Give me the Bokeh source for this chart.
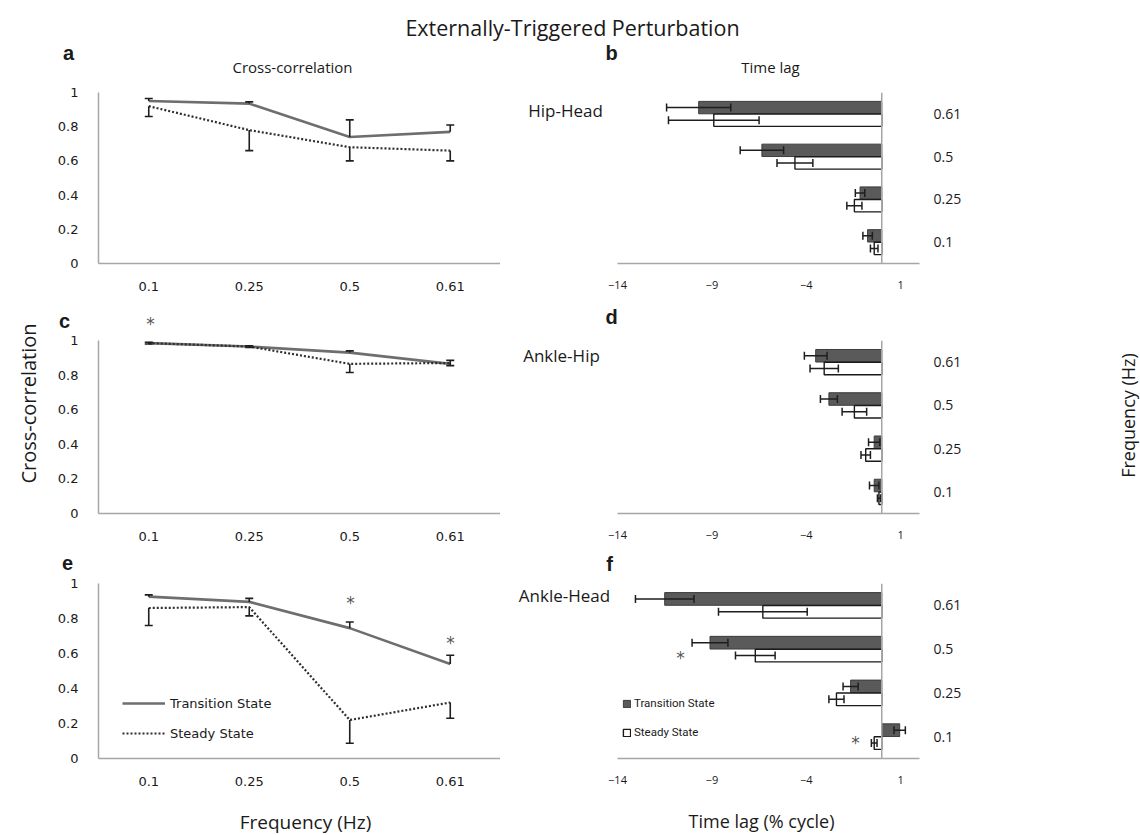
import math
from bokeh.plotting import figure
from bokeh.models import (Range1d, FactorRange, ColumnDataSource, Whisker, TeeHead, Label,
                          Span, FixedTicker, Legend, LegendItem, CustomJSTickFormatter)
from bokeh.layouts import column, row
from bokeh.transform import dodge
from bokeh.embed import file_html
from bokeh.resources import INLINE

# ---------------- data ----------------
freqs = ["0.1", "0.25", "0.5", "0.61"]
xcorr_ticks = [0, 0.2, 0.4, 0.6, 0.8, 1]
lag_ticks = [-14, -9, -4, 1]

# Cross-correlation (mean, error) - Transition State / Steady State
xc_trans_hip_head = [0.95, 0.935, 0.74, 0.77]
xc_trans_hip_head_err = [0.015, 0.01, 0.10, 0.04]
xc_steady_hip_head = [0.92, 0.78, 0.68, 0.66]
xc_steady_hip_head_err = [0.06, 0.12, 0.08, 0.06]

xc_trans_ankle_hip = [0.985, 0.965, 0.93, 0.865]
xc_trans_ankle_hip_err = [0.005, 0.005, 0.01, 0.02]
xc_steady_ankle_hip = [0.985, 0.965, 0.865, 0.87]
xc_steady_ankle_hip_err = [0.005, 0.005, 0.05, 0.015]

xc_trans_ankle_head = [0.925, 0.895, 0.745, 0.54]
xc_trans_ankle_head_err = [0.01, 0.02, 0.035, 0.05]
xc_steady_ankle_head = [0.86, 0.865, 0.22, 0.32]
xc_steady_ankle_head_err = [0.10, 0.05, 0.133, 0.09]

# Time lag (% cycle) (mean, error)
lag_trans_hip_head = [-0.75, -1.15, -6.35, -9.7]
lag_trans_hip_head_err = [0.25, 0.25, 1.15, 1.7]
lag_steady_hip_head = [-0.4, -1.45, -4.6, -8.9]
lag_steady_hip_head_err = [0.2, 0.4, 0.95, 2.4]

lag_trans_ankle_hip = [-0.4, -0.4, -2.8, -3.5]
lag_trans_ankle_hip_err = [0.25, 0.3, 0.45, 0.6]
lag_steady_ankle_hip = [-0.15, -0.85, -1.45, -3.05]
lag_steady_ankle_hip_err = [0.08, 0.25, 0.65, 0.75]

lag_trans_ankle_head = [0.95, -1.65, -9.1, -11.5]
lag_trans_ankle_head_err = [0.3, 0.4, 0.95, 1.55]
lag_steady_ankle_head = [-0.4, -2.4, -6.7, -6.3]
lag_steady_ankle_head_err = [0.15, 0.4, 1.05, 2.35]

# ---------------- layout (page pixels) ----------------
HDR_H = 84
LS_X0, LS_X1 = 0, 46          # left text strip
L_X0, L_FX0, L_FX1 = 46, 98, 500
R_X0, R_FX1, R_X1 = 500, 919, 1116
RS_X1 = 1140                  # right text strip 1116..1140
BOTTOM = 833
LAG_START = -20.2             # frame starts left of -14 so in-between labels fit
# (fig top, frame top, frame bottom, fig bottom)
rows_geom = [(84, 92, 263, 300), (332, 340, 513, 545), (576, 583, 758, 790)]
strips_geom = [(300, 332), (545, 576), (790, BOTTOM)]

TXT = "#1a1a1a"
AXIS_C = "#a6a6a6"
ERR_C = "#1e1e1e"


def lab(p, fx, fb, X, Y, text, size, font="Open Sans", bold=False, angle=0.0,
        align="center", color=TXT):
    p.add_layout(Label(x=X - fx, y=fb - Y, x_units="screen", y_units="screen", text=text,
                       text_font=font, text_font_size=f"{size}px",
                       text_font_style="bold" if bold else "normal",
                       text_align=align, text_baseline="middle", angle=angle,
                       text_color=color))


def star(p, fx, fb, X, Y):
    lab(p, fx, fb, X, Y + 5, "*", 17, font="DejaVu Sans", color="#555555")


def letter(p, fx, fb, X, Y, t):
    lab(p, fx, fb, X, Y, t, 20, font="Liberation Sans", bold=True)


def text_fig(w, h):
    p = figure(width=w, height=h, output_backend="svg", toolbar_location=None,
               x_range=Range1d(0, 1), y_range=Range1d(0, 1), x_axis_location=None,
               y_axis_location=None, min_border=0)
    p.outline_line_color = None
    p.grid.visible = False
    return p


def base_fig(width, g, left_b, right_b, **kw):
    y0, ft, fb, y1 = g
    p = figure(width=width, height=y1 - y0, output_backend="svg",
               toolbar_location=None, min_border_left=left_b, min_border_right=right_b,
               min_border_top=ft - y0, min_border_bottom=y1 - fb, **kw)
    p.outline_line_color = None
    p.grid.visible = False
    return p


def left_panel(i, trans, trans_err, steady, steady_err):
    g = rows_geom[i]
    p = base_fig(L_FX1 - L_X0, g, L_FX0 - L_X0, 0,
                 x_range=FactorRange(factors=freqs), y_range=Range1d(0, 1))
    src = ColumnDataSource(dict(
        freq=freqs, t=trans, s=steady,
        t_hi=[v + e for v, e in zip(trans, trans_err)],
        s_lo=[v - e for v, e in zip(steady, steady_err)],
    ))
    lt = p.line("freq", "t", source=src, line_color="#6e6e6e", line_width=2.6)
    ls = p.line("freq", "s", source=src, line_color="#2e2e2e", line_width=2.2, line_dash="2 2")
    p.add_layout(Whisker(source=src, base="freq", lower="t", upper="t_hi", dimension="height",
                         line_color=ERR_C, line_width=1.6, lower_head=None, level="overlay",
                         upper_head=TeeHead(size=8, line_color=ERR_C, line_width=1.6)))
    p.add_layout(Whisker(source=src, base="freq", lower="s_lo", upper="s", dimension="height",
                         line_color=ERR_C, line_width=1.6, upper_head=None, level="overlay",
                         lower_head=TeeHead(size=8, line_color=ERR_C, line_width=1.6)))
    for ax in (p.xaxis[0], p.yaxis[0]):
        ax.axis_line_color = AXIS_C
        ax.axis_line_width = 1.5
        ax.major_tick_line_color = None
        ax.minor_tick_line_color = None
        ax.major_label_text_font = "DejaVu Sans"
        ax.major_label_text_font_size = "13px"
        ax.major_label_text_color = TXT
    p.xaxis.major_label_standoff = 12
    p.yaxis.major_label_standoff = 14
    p.yaxis.ticker = FixedTicker(ticks=xcorr_ticks)
    p.yaxis.formatter = CustomJSTickFormatter(code="return String(tick)")
    return p, lt, ls


def right_panel(i, trans, trans_err, steady, steady_err):
    g = rows_geom[i]
    p = base_fig(R_X1 - R_X0, g, 0, R_X1 - R_FX1,
                 x_range=Range1d(LAG_START, 2), y_range=FactorRange(factors=freqs),
                 y_axis_location="right")
    src = ColumnDataSource(dict(
        freq=freqs, t=trans, s=steady,
        t_lo=[v - e for v, e in zip(trans, trans_err)],
        t_hi=[v + e for v, e in zip(trans, trans_err)],
        s_lo=[v - e for v, e in zip(steady, steady_err)],
        s_hi=[v + e for v, e in zip(steady, steady_err)],
    ))
    yt = dodge("freq", 0.147, range=p.y_range)
    ys = dodge("freq", -0.147, range=p.y_range)
    bt = p.hbar(y=yt, left=0, right="t", height=0.29, source=src,
                fill_color="#5a5a5a", line_color="#3c3c3c", line_width=1)
    bs = p.hbar(y=ys, left=0, right="s", height=0.29, source=src,
                fill_color="white", line_color="#1a1a1a", line_width=1.4)
    for base, lo, hi in ((yt, "t_lo", "t_hi"), (ys, "s_lo", "s_hi")):
        p.add_layout(Whisker(source=src, base=base, lower=lo, upper=hi, dimension="width",
                             line_color=ERR_C, line_width=1.5, level="overlay",
                             lower_head=TeeHead(size=8, line_color=ERR_C, line_width=1.5),
                             upper_head=TeeHead(size=8, line_color=ERR_C, line_width=1.5)))
    p.add_layout(Span(location=0, dimension="height", line_color=AXIS_C, line_width=1.5))
    xa = p.xaxis[0]
    xa.bounds = (lag_ticks[0], 2)
    xa.ticker = FixedTicker(ticks=lag_ticks)
    xa.axis_line_color = AXIS_C
    xa.axis_line_width = 1.5
    xa.major_tick_line_color = None
    xa.minor_tick_line_color = None
    xa.major_label_text_font = "Open Sans"
    xa.major_label_text_font_size = "11px"
    xa.major_label_text_color = TXT
    xa.major_label_standoff = 11
    ya = p.yaxis[0]
    ya.axis_line_color = None
    ya.major_tick_line_color = None
    ya.minor_tick_line_color = None
    ya.major_label_text_font = "Open Sans"
    ya.major_label_text_font_size = "14px"
    ya.major_label_text_color = TXT
    ya.major_label_standoff = 8
    return p, bt, bs


# ---------------- panels ----------------
pa, _, _ = left_panel(0, xc_trans_hip_head, xc_trans_hip_head_err,
                      xc_steady_hip_head, xc_steady_hip_head_err)
pc, _, _ = left_panel(1, xc_trans_ankle_hip, xc_trans_ankle_hip_err,
                      xc_steady_ankle_hip, xc_steady_ankle_hip_err)
pe, lte, lse = left_panel(2, xc_trans_ankle_head, xc_trans_ankle_head_err,
                          xc_steady_ankle_head, xc_steady_ankle_head_err)
pb, _, _ = right_panel(0, lag_trans_hip_head, lag_trans_hip_head_err,
                       lag_steady_hip_head, lag_steady_hip_head_err)
pd, _, _ = right_panel(1, lag_trans_ankle_hip, lag_trans_ankle_hip_err,
                       lag_steady_ankle_hip, lag_steady_ankle_hip_err)
pf, btf, bsf = right_panel(2, lag_trans_ankle_head, lag_trans_ankle_head_err,
                           lag_steady_ankle_head, lag_steady_ankle_head_err)

# ---------------- texts ----------------
hdr = text_fig(RS_X1, HDR_H)
lab(hdr, 0, HDR_H, 572, 27, "Externally-Triggered Perturbation", 21.5)
letter(hdr, 0, HDR_H, 68, 52, "a")
letter(hdr, 0, HDR_H, 611, 52, "b")
lab(hdr, 0, HDR_H, 292, 66, "Cross-correlation", 15)
lab(hdr, 0, HDR_H, 770, 66, "Time lag", 15)

s2 = text_fig(R_X1 - L_X0, strips_geom[0][1] - strips_geom[0][0])
fb2 = strips_geom[0][1]
letter(s2, L_X0, fb2, 64, 320, "c")
star(s2, L_X0, fb2, 150, 318)
letter(s2, L_X0, fb2, 611, 316, "d")

s3 = text_fig(R_X1 - L_X0, strips_geom[1][1] - strips_geom[1][0])
fb3 = strips_geom[1][1]
letter(s3, L_X0, fb3, 67, 562, "e")
letter(s3, L_X0, fb3, 609, 563, "f")

s4 = text_fig(R_X1 - L_X0, strips_geom[2][1] - strips_geom[2][0])
fb4 = strips_geom[2][1]
lab(s4, L_X0, fb4, 305, 821, "Frequency (Hz)", 19)
lab(s4, L_X0, fb4, 761, 820, "Time lag (% cycle)", 18)

left_strip = text_fig(LS_X1 - LS_X0, BOTTOM - HDR_H)
lab(left_strip, 0, BOTTOM, 28, 403, "Cross-correlation", 20, angle=math.pi / 2)
right_strip = text_fig(RS_X1 - R_X1, BOTTOM - HDR_H)
lab(right_strip, R_X1, BOTTOM, 1127, 415, "Frequency (Hz)", 18, angle=math.pi / 2)

# in-frame texts of the right panels and stars
lab(pb, R_X0, rows_geom[0][2], 565, 110, "Hip-Head", 17)
lab(pd, R_X0, rows_geom[1][2], 561, 355, "Ankle-Hip", 17)
lab(pf, R_X0, rows_geom[2][2], 564, 595, "Ankle-Head", 17)
star(pe, L_FX0, rows_geom[2][2], 350, 597)
star(pe, L_FX0, rows_geom[2][2], 450, 637)
star(pf, R_X0, rows_geom[2][2], 680, 652)
star(pf, R_X0, rows_geom[2][2], 855, 737)

# ---------------- legends ----------------
leg_e = Legend(items=[LegendItem(label="Transition State", renderers=[lte]),
                      LegendItem(label="Steady State", renderers=[lse])],
               location=(19, 11), orientation="vertical", background_fill_alpha=0,
               border_line_alpha=0, glyph_width=43, glyph_height=18, label_height=18,
               spacing=12, padding=5, margin=0, label_standoff=5,
               label_text_font="DejaVu Sans", label_text_font_size="13px",
               label_text_color=TXT)
pe.add_layout(leg_e)

leg_f = Legend(items=[LegendItem(label="Transition State", renderers=[btf]),
                      LegendItem(label="Steady State", renderers=[bsf])],
               location=(119, 13), orientation="vertical", background_fill_alpha=0,
               border_line_alpha=0, glyph_width=9, glyph_height=9, label_height=20,
               spacing=9, padding=3, margin=0, label_standoff=3, label_text_font="Roboto",
               label_text_font_size="11.5px", label_text_color=TXT)
pf.add_layout(leg_f)

main = column(row(pa, pb), s2, row(pc, pd), s3, row(pe, pf), s4)
layout = column(hdr, row(left_strip, main, right_strip))

open("out.html", "w").write(file_html(layout, INLINE))
